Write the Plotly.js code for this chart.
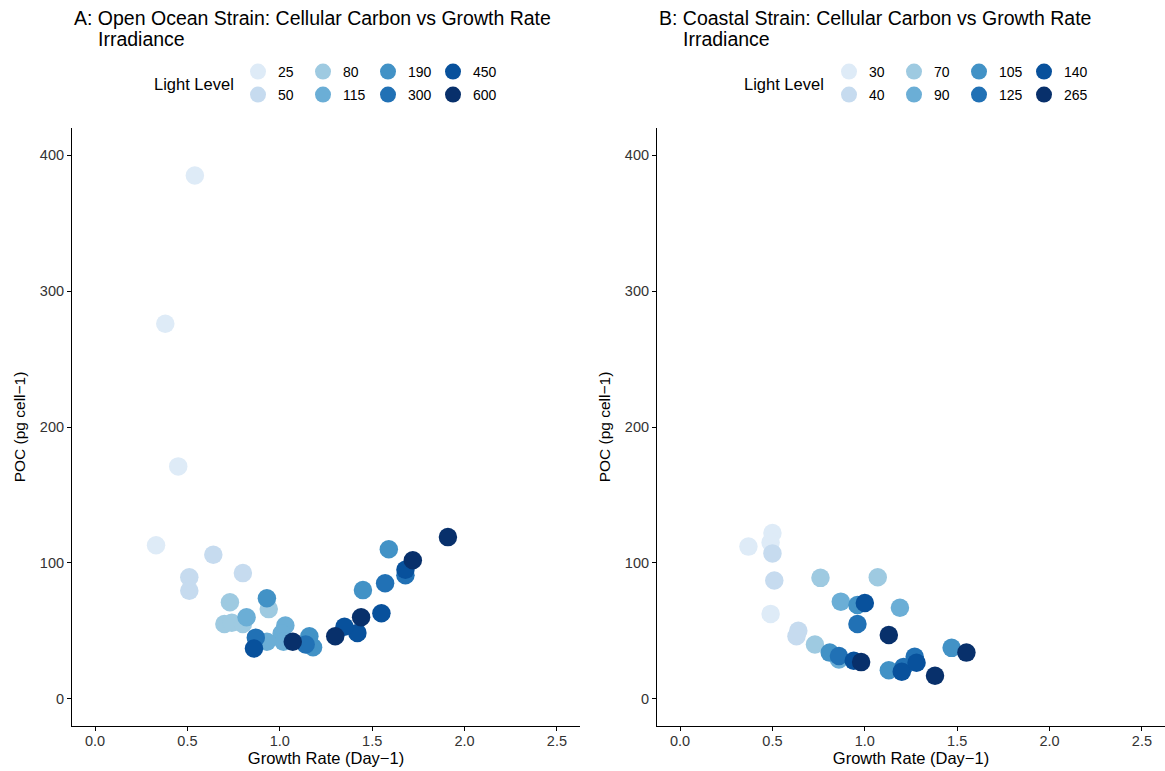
<!DOCTYPE html>
<html><head><meta charset="utf-8">
<script src="https://cdn.plot.ly/plotly-3.0.1.min.js"></script>
<style>
html,body{margin:0;padding:0;overflow:hidden;background:#fff}
#plot{width:1165px;height:771px}
</style>
</head><body><div id="plot"></div>
<script>
// ---------- data ----------
const titleA = "A: Open Ocean Strain: Cellular Carbon vs Growth Rate";
const titleB = "B: Coastal Strain: Cellular Carbon vs Growth Rate";
const subTitle = "Irradiance";
const legendTitle = "Light Level";
const xTitle = "Growth Rate (Day\u22121)";
const yTitle = "POC (pg cell\u22121)";

const levelsA = [25, 50, 80, 115, 190, 300, 450, 600];
const levelsB = [30, 40, 70, 90, 105, 125, 140, 265];
const blues = ["#DEEBF7", "#C6DBEF", "#9ECAE1", "#6BAED6", "#4292C6", "#2171B5", "#08519C", "#08306B"];

// Panel A (open ocean strain)
const a25x = [0.54, 0.38, 0.45, 0.33],        a25y = [385, 276, 171, 113];
const a50x = [0.64, 0.51, 0.51, 0.80],        a50y = [106, 89.5, 79.5, 92.5];
const a80x = [0.73, 0.70, 0.74, 0.80, 0.94],  a80y = [71, 55, 56, 55, 66];
const a115x = [0.82, 1.03, 1.01, 1.02, 0.93], a115y = [60, 54, 48, 42, 42];
const a190x = [0.93, 1.59, 1.45, 1.16, 1.18], a190y = [74, 110, 80, 46, 38];
const a300x = [0.87, 1.14, 1.57, 1.68],       a300y = [45, 40, 85, 91];
const a450x = [0.86, 1.55, 1.42, 1.35, 1.68], a450y = [37, 63, 48.5, 53, 95];
const a600x = [1.91, 1.72, 1.44, 1.30, 1.07], a600y = [119, 102, 60, 46, 42];

// Panel B (coastal strain)
const b30x = [0.37, 0.50, 0.49, 0.49],  b30y = [112, 122, 115, 62.5];
const b40x = [0.50, 0.51, 0.64, 0.63],  b40y = [107, 87, 50, 46];
const b70x = [0.76, 1.07, 0.73],        b70y = [89, 89.5, 40];
const b90x = [0.87, 1.19, 0.86],        b90y = [71.5, 67, 29];
const b105x = [0.96, 0.81, 1.13, 1.47], b105y = [69, 34, 21, 37.5];
const b125x = [0.96, 0.86, 1.27, 1.21], b125y = [55, 31.5, 31, 23.5];
const b140x = [1.00, 1.20, 1.28, 0.94], b140y = [70.5, 20, 26.5, 28];
const b265x = [1.13, 0.98, 1.38, 1.55], b265y = [47, 27, 17, 34];

const seriesA = [[a25x,a25y],[a50x,a50y],[a80x,a80y],[a115x,a115y],[a190x,a190y],[a300x,a300y],[a450x,a450y],[a600x,a600y]];
const seriesB = [[b30x,b30y],[b40x,b40y],[b70x,b70y],[b90x,b90y],[b105x,b105y],[b125x,b125y],[b140x,b140y],[b265x,b265y]];

// ---------- layout helpers (pixel to paper) ----------
const W = 1165, H = 771;
const px = v => v / W;
const py = v => 1 - v / H;
const FONT = "Liberation Sans, Arial, Helvetica, sans-serif";

const traces = [];
function addPanel(series, levels, xa, ya, legA, legB) {
  series.forEach((s, i) => {
    traces.push({
      type: "scatter", mode: "markers",
      x: s[0], y: s[1], xaxis: xa, yaxis: ya,
      name: String(levels[i]),
      legend: (i % 2 === 0) ? legA : legB,
      marker: {color: blues[i], size: 18.5, line: {width: 0}},
      hoverinfo: "x+y+name"
    });
  });
}
addPanel(seriesA, levelsA, "x", "y", "legend", "legend2");
addPanel(seriesB, levelsB, "x2", "y2", "legend3", "legend4");

const axisCommon = {
  showline: true, linecolor: "#000", linewidth: 1.1, mirror: false,
  ticks: "outside", ticklen: 4, tickcolor: "#000", tickwidth: 1,
  showgrid: false, zeroline: false,
  tickfont: {family: FONT, size: 14.5, color: "#333"},
  fixedrange: true
};
const xCommon = Object.assign({}, axisCommon, {
  range: [-0.125, 2.625], tickvals: [0, 0.5, 1, 1.5, 2, 2.5], tickformat: ".1f",
  ticklabelstandoff: -2,
  title: {text: xTitle, font: {family: FONT, size: 16.5, color: "#000"}, standoff: 0}
});
const yCommon = Object.assign({}, axisCommon, {
  range: [-20, 420], tickvals: [0, 100, 200, 300, 400],
  domain: [py(726), py(128)],
  title: {text: yTitle, font: {family: FONT, size: 15.5, color: "#000"}, standoff: 10}
});

function legendAt(xref, yref) {
  return {
    orientation: "h", x: px(xref), xanchor: "left", y: py(yref), yanchor: "middle",
    bgcolor: "rgba(0,0,0,0)", borderwidth: 0,
    font: {family: FONT, size: 14, color: "#000"},
    entrywidth: 20, entrywidthmode: "pixels",
    itemclick: false, itemdoubleclick: false, traceorder: "normal"
  };
}

const ann = (text, x, y, size, xanchor) => ({
  text, x: px(x), y: py(y), xref: "paper", yref: "paper",
  xanchor: xanchor || "left", yanchor: "middle", showarrow: false,
  font: {family: FONT, size, color: "#000"}
});

const layout = {
  width: W, height: H,
  margin: {l: 0, r: 0, t: 0, b: 0},
  paper_bgcolor: "#fff", plot_bgcolor: "#fff",
  font: {family: FONT},
  showlegend: true,
  xaxis: Object.assign({}, xCommon, {domain: [px(72), px(580)], anchor: "y"}),
  yaxis: Object.assign({}, yCommon, {anchor: "x"}),
  xaxis2: Object.assign({}, xCommon, {domain: [px(657), 1], anchor: "y2"}),
  yaxis2: Object.assign({}, yCommon, {anchor: "x2"}),
  legend: legendAt(238, 72),
  legend2: legendAt(238, 95),
  legend3: legendAt(829, 72),
  legend4: legendAt(829, 95),
  annotations: [
    ann(titleA, 72, 18, 19.5),
    ann(subTitle, 96, 39, 19.5),
    ann(titleB, 657, 18, 19.5),
    ann(subTitle, 681, 39, 19.5),
    ann(legendTitle, 194, 84, 16.5, "center"),
    ann(legendTitle, 784, 84, 16.5, "center")
  ]
};

Plotly.newPlot("plot", traces, layout, {displayModeBar: false, responsive: false});
</script>
</body></html>
